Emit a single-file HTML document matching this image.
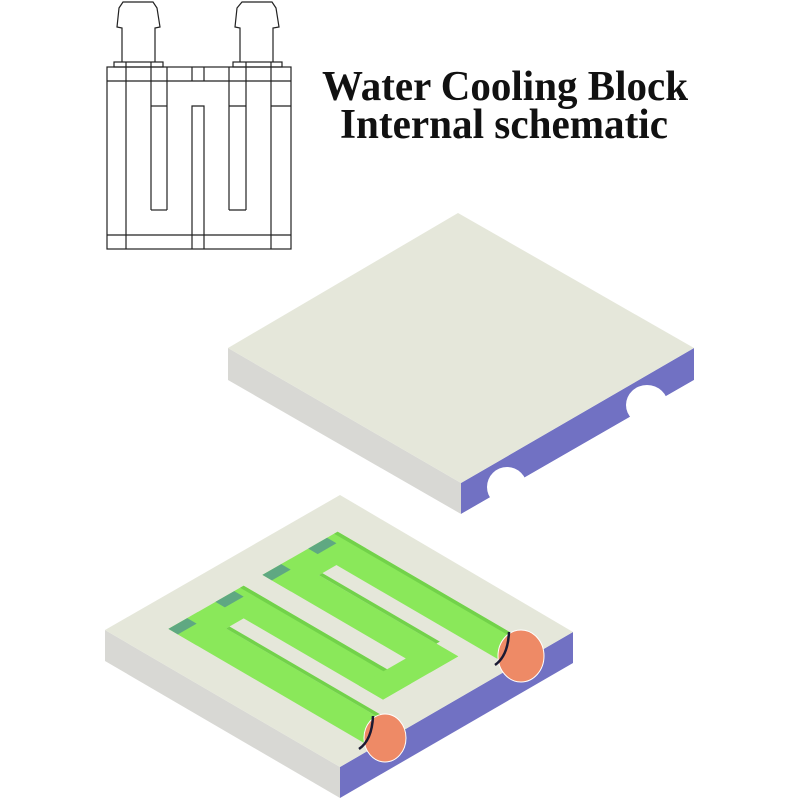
<!DOCTYPE html>
<html><head><meta charset="utf-8"><style>html,body{margin:0;padding:0;background:#fff}svg{display:block}</style></head>
<body>
<svg width="800" height="800" viewBox="0 0 800 800" xmlns="http://www.w3.org/2000/svg">
<rect width="800" height="800" fill="#fff"/>
<g fill="none" stroke="#222" stroke-width="1.2">
<path d="M122,62 V28 L117,27 L119,8 L123,2 H153 L157,8 L160,27 L155,28 V62"/>
<rect x="114" y="62" width="49" height="5"/>
<path d="M240,62 V28 L235,27 L237,8 L242,2 H272 L276,8 L279,27 L273,28 V62"/>
<rect x="233" y="62" width="49" height="5"/>
<rect x="107" y="67" width="184" height="182"/>
<line x1="107" y1="81" x2="291" y2="81"/>
<line x1="107" y1="235" x2="291" y2="235"/>
<line x1="126" y1="62" x2="126" y2="249"/>
<line x1="151" y1="62" x2="151" y2="210"/>
<line x1="167" y1="67" x2="167" y2="210"/>
<line x1="151" y1="210" x2="167" y2="210"/>
<line x1="151" y1="106" x2="167" y2="106"/>
<line x1="192" y1="67" x2="192" y2="81"/>
<line x1="204" y1="67" x2="204" y2="81"/>
<path d="M192,249 V106 H204 V249"/>
<line x1="229" y1="67" x2="229" y2="210"/>
<line x1="246" y1="62" x2="246" y2="210"/>
<line x1="229" y1="210" x2="246" y2="210"/>
<line x1="229" y1="106" x2="246" y2="106"/>
<line x1="271" y1="62" x2="271" y2="249"/>
<line x1="271" y1="106" x2="291" y2="106"/>
</g>
<g font-family="'Liberation Serif', serif" font-weight="bold" font-size="42" fill="#111">
<text x="322" y="100" textLength="366" lengthAdjust="spacingAndGlyphs">Water Cooling Block</text>
<text x="340" y="138" textLength="328" lengthAdjust="spacingAndGlyphs">Internal schematic</text>
</g>
<polygon points="228,348 461,483 461,514 228,380" fill="#d8d8d4"/>
<polygon points="461,483 694,348 694,380 461,514" fill="#7171c3"/>
<ellipse cx="507" cy="487" rx="20" ry="20" fill="#fff"/>
<ellipse cx="647" cy="405" rx="21" ry="20" fill="#fff"/>
<polygon points="461,514 470,520 700,390 694,380" fill="#fff"/>
<polygon points="228,348 458,213 694,348 461,483" fill="#e5e7da"/>
<polygon points="105,630 340,767 340,798 105,661" fill="#d8d8d4"/>
<polygon points="340,767 573,632 573,663 340,798" fill="#7171c3"/>
<polygon points="105,630 340,495 573,632 340,767" fill="#e5e7da"/>
<g transform="matrix(235,137,235,-135,105,630)">
<g fill="#8ae85a">
<rect x="0.13" y="0.14" width="0.87" height="0.125"/>
<rect x="0.13" y="0.34" width="0.713" height="0.12"/>
<rect x="0.13" y="0.14" width="0.12" height="0.32"/>
<rect x="0.13" y="0.54" width="0.713" height="0.12"/>
<rect x="0.13" y="0.735" width="0.87" height="0.125"/>
<rect x="0.13" y="0.54" width="0.12" height="0.32"/>
<rect x="0.74" y="0.34" width="0.103" height="0.32"/>
</g>
<g fill="#72d24a">
<rect x="0.25" y="0.265" width="0.75" height="0.015"/>
<rect x="0.13" y="0.445" width="0.61" height="0.015"/>
<rect x="0.25" y="0.66" width="0.5" height="0.015"/>
<rect x="0.13" y="0.845" width="0.87" height="0.015"/>
</g>
<g fill="#5fa882">
<rect x="0.13" y="0.14" width="0.04" height="0.08"/>
<rect x="0.13" y="0.34" width="0.04" height="0.08"/>
<rect x="0.13" y="0.54" width="0.04" height="0.08"/>
<rect x="0.13" y="0.735" width="0.04" height="0.08"/>
</g>
</g>
<ellipse cx="385" cy="738" rx="21" ry="24" fill="#ee8a66" stroke="#fff" stroke-width="1"/>
<path d="M373,716 Q372,740 359,749" fill="none" stroke="#1a1a33" stroke-width="2.5"/>
<ellipse cx="521" cy="656" rx="23" ry="26" fill="#ee8a66" stroke="#fff" stroke-width="1"/>
<path d="M509,632 Q508,656 495,665" fill="none" stroke="#1a1a33" stroke-width="2.5"/>
</svg>
</body></html>
